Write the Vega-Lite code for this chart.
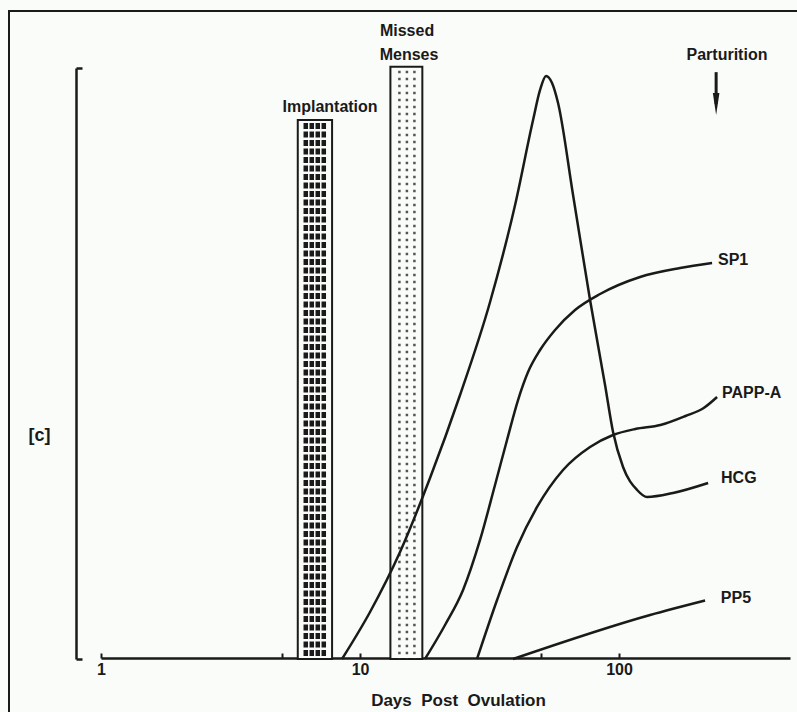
{
  "$schema": "https://vega.github.io/schema/vega-lite/v6.json",
  "width": 790,
  "height": 703,
  "autosize": {"type": "none"},
  "padding": {"left": 9, "top": 11, "right": 0, "bottom": 0},
  "background": "#fafcf9",
  "config": {
    "view": {"stroke": "#1a1a1a", "strokeWidth": 2},
    "font": "Liberation Sans",
    "text": {"font": "Liberation Sans", "fontWeight": "bold", "fontSize": 16, "color": "#1a1a1a"}
  },
  "datasets": {
    "curves": [
      {"series": "HCG", "day": 8.52, "v": 0},
      {"series": "HCG", "day": 10.93, "v": 7.95},
      {"series": "HCG", "day": 14.27, "v": 18.1},
      {"series": "HCG", "day": 18.63, "v": 30.63},
      {"series": "HCG", "day": 24.33, "v": 44.67},
      {"series": "HCG", "day": 31.77, "v": 60.41},
      {"series": "HCG", "day": 39.68, "v": 76.82},
      {"series": "HCG", "day": 46.56, "v": 91.2},
      {"series": "HCG", "day": 49.55, "v": 96.28},
      {"series": "HCG", "day": 52.25, "v": 98.65},
      {"series": "HCG", "day": 55.11, "v": 97.46},
      {"series": "HCG", "day": 58.14, "v": 94.08},
      {"series": "HCG", "day": 66.44, "v": 78.51},
      {"series": "HCG", "day": 77.27, "v": 60.74},
      {"series": "HCG", "day": 88.29, "v": 46.36},
      {"series": "HCG", "day": 94.8, "v": 38.41},
      {"series": "HCG", "day": 103.6, "v": 32.49},
      {"series": "HCG", "day": 117.4, "v": 28.6},
      {"series": "HCG", "day": 128.3, "v": 27.41},
      {"series": "HCG", "day": 161.6, "v": 28.09},
      {"series": "HCG", "day": 220.7, "v": 29.78},
      {"series": "SP1", "day": 17.82, "v": 0},
      {"series": "SP1", "day": 21.29, "v": 5.75},
      {"series": "SP1", "day": 24.99, "v": 11.68},
      {"series": "SP1", "day": 29.06, "v": 20.14},
      {"series": "SP1", "day": 33.2, "v": 29.44},
      {"series": "SP1", "day": 36.94, "v": 37.06},
      {"series": "SP1", "day": 40.74, "v": 43.82},
      {"series": "SP1", "day": 44.53, "v": 48.56},
      {"series": "SP1", "day": 49.55, "v": 52.28},
      {"series": "SP1", "day": 56.61, "v": 55.67},
      {"series": "SP1", "day": 67.63, "v": 59.05},
      {"series": "SP1", "day": 84.47, "v": 61.76},
      {"series": "SP1", "day": 120.5, "v": 64.64},
      {"series": "SP1", "day": 172.0, "v": 66.16},
      {"series": "SP1", "day": 228.6, "v": 67.01},
      {"series": "PAPP-A", "day": 28.29, "v": 0},
      {"series": "PAPP-A", "day": 33.81, "v": 9.98},
      {"series": "PAPP-A", "day": 40.38, "v": 18.95},
      {"series": "PAPP-A", "day": 48.25, "v": 25.72},
      {"series": "PAPP-A", "day": 60.78, "v": 31.98},
      {"series": "PAPP-A", "day": 77.27, "v": 35.87},
      {"series": "PAPP-A", "day": 94.8, "v": 37.9},
      {"series": "PAPP-A", "day": 115.5, "v": 38.92},
      {"series": "PAPP-A", "day": 144.4, "v": 39.59},
      {"series": "PAPP-A", "day": 180.5, "v": 41.12},
      {"series": "PAPP-A", "day": 212.2, "v": 42.47},
      {"series": "PAPP-A", "day": 239, "v": 44.33},
      {"series": "PP5", "day": 38.97, "v": 0},
      {"series": "PP5", "day": 131.8, "v": 7.45},
      {"series": "PP5", "day": 214.8, "v": 9.9}
    ],
    "curveLabels": [
      {"label": "SP1", "day": 241, "v": 67.5},
      {"label": "PAPP-A", "day": 249.8, "v": 45.0},
      {"label": "HCG", "day": 247.6, "v": 30.6},
      {"label": "PP5", "day": 247, "v": 10.3}
    ],
    "bars": [
      {"event": "Implantation", "day": 5.75, "day2": 7.8, "v": 91.2},
      {"event": "Missed Menses", "day": 13.1, "day2": 17.4, "v": 100.2}
    ],
    "notes": [
      {"label": "Implantation", "day": 7.66, "v": 93.4},
      {"label": "Missed", "day": 15.19, "v": 106.3},
      {"label": "Menses", "day": 15.46, "v": 102.2},
      {"label": "Parturition", "day": 261, "v": 102.2}
    ],
    "arrow": [
      {"label": "Parturition", "day": 237, "v": 93.9, "top": 99.3}
    ]
  },
  "encoding": {
    "x": {
      "field": "day",
      "type": "quantitative",
      "scale": {"type": "log", "domain": [1, 457], "range": [92, 781], "nice": false, "zero": false},
      "axis": {
        "values": [1, 5, 10, 50, 100],
        "format": "d",
        "labelExpr": "datum.value == 5 || datum.value == 50 ? '' : datum.label",
        "labelFlush": false,
        "labelOverlap": false,
        "grid": false,
        "offset": -56,
        "domainColor": "#1a1a1a",
        "domainWidth": 2.5,
        "tickColor": "#1a1a1a",
        "tickSize": -5,
        "tickWidth": 2,
        "labelPadding": 8,
        "labelFont": "Liberation Sans",
        "labelFontSize": 16,
        "labelFontWeight": "bold",
        "labelColor": "#1a1a1a",
        "title": "Days\u00a0\u00a0Post\u00a0\u00a0Ovulation",
        "titleFont": "Liberation Sans",
        "titleFontSize": 17,
        "titleFontWeight": "bold",
        "titleColor": "#1a1a1a",
        "titleX": 449,
        "titleY": 47,
        "titleAlign": "center",
        "titleBaseline": "alphabetic"
      }
    },
    "y": {
      "field": "v",
      "type": "quantitative",
      "scale": {"domain": [0, 100], "range": [648, 57], "nice": false, "zero": false},
      "axis": {
        "values": [0, 100],
        "labels": false,
        "grid": false,
        "offset": -67,
        "domainColor": "#1a1a1a",
        "domainWidth": 2.5,
        "tickColor": "#1a1a1a",
        "tickSize": -6,
        "tickWidth": 2.5,
        "title": "[c]",
        "titleAngle": 0,
        "titleX": -37,
        "titleY": 424,
        "titleAlign": "center",
        "titleBaseline": "middle",
        "titleFont": "Liberation Sans",
        "titleFontSize": 18,
        "titleFontWeight": "bold",
        "titleColor": "#1a1a1a"
      }
    }
  },
  "layer": [
    {
      "data": {"name": "bars"},
      "mark": {"type": "rect", "fill": "#fafcf9", "stroke": "#1a1a1a", "strokeWidth": 2},
      "encoding": {"x2": {"field": "day2"}, "y2": {"datum": 0}}
    },
    {
      "data": {"name": "bars"},
      "transform": [{"filter": "datum.event == 'Implantation'"}],
      "mark": {"type": "rule", "color": "#1a1a1a", "strokeWidth": 4.5, "strokeDash": [6, 2.5], "strokeCap": "butt", "xOffset": 8, "yOffset": 3},
      "encoding": {"y2": {"datum": 0}}
    },
    {
      "data": {"name": "bars"},
      "transform": [{"filter": "datum.event == 'Implantation'"}],
      "mark": {"type": "rule", "color": "#1a1a1a", "strokeWidth": 4.5, "strokeDash": [6, 2.5], "strokeCap": "butt", "xOffset": 14, "yOffset": 3},
      "encoding": {"y2": {"datum": 0}}
    },
    {
      "data": {"name": "bars"},
      "transform": [{"filter": "datum.event == 'Implantation'"}],
      "mark": {"type": "rule", "color": "#1a1a1a", "strokeWidth": 4.5, "strokeDash": [6, 2.5], "strokeCap": "butt", "xOffset": 20, "yOffset": 3},
      "encoding": {"y2": {"datum": 0}}
    },
    {
      "data": {"name": "bars"},
      "transform": [{"filter": "datum.event == 'Implantation'"}],
      "mark": {"type": "rule", "color": "#1a1a1a", "strokeWidth": 4.5, "strokeDash": [6, 2.5], "strokeCap": "butt", "xOffset": 26, "yOffset": 3},
      "encoding": {"y2": {"datum": 0}}
    },
    {
      "data": {"name": "bars"},
      "transform": [{"filter": "datum.event == 'Missed Menses'"}],
      "mark": {"type": "rule", "color": "#555555", "strokeWidth": 2.5, "strokeDash": [2.5, 4.5], "strokeCap": "butt", "xOffset": 9, "yOffset": 4},
      "encoding": {"y2": {"datum": 0}}
    },
    {
      "data": {"name": "bars"},
      "transform": [{"filter": "datum.event == 'Missed Menses'"}],
      "mark": {"type": "rule", "color": "#555555", "strokeWidth": 2.5, "strokeDash": [2.5, 4.5], "strokeCap": "butt", "xOffset": 16.5, "yOffset": 4},
      "encoding": {"y2": {"datum": 0}}
    },
    {
      "data": {"name": "bars"},
      "transform": [{"filter": "datum.event == 'Missed Menses'"}],
      "mark": {"type": "rule", "color": "#555555", "strokeWidth": 2.5, "strokeDash": [2.5, 4.5], "strokeCap": "butt", "xOffset": 24, "yOffset": 4},
      "encoding": {"y2": {"datum": 0}}
    },
    {
      "data": {"name": "curves"},
      "mark": {"type": "line", "interpolate": "monotone", "strokeWidth": 2.5, "color": "#1a1a1a"},
      "encoding": {"detail": {"field": "series"}}
    },
    {
      "data": {"name": "curveLabels"},
      "mark": {"type": "text", "align": "left", "baseline": "middle"},
      "encoding": {"text": {"field": "label"}}
    },
    {
      "data": {"name": "notes"},
      "mark": {"type": "text", "align": "center", "baseline": "middle"},
      "encoding": {"text": {"field": "label"}}
    },
    {
      "data": {"name": "arrow"},
      "mark": {"type": "rule", "color": "#1a1a1a", "strokeWidth": 3},
      "encoding": {"y2": {"field": "top"}}
    },
    {
      "data": {"name": "arrow"},
      "mark": {"type": "point", "shape": "M-0.3,-1L0.3,-1L0,1Z", "size": 484, "filled": true, "color": "#1a1a1a", "opacity": 1},
      "encoding": {}
    }
  ]
}
